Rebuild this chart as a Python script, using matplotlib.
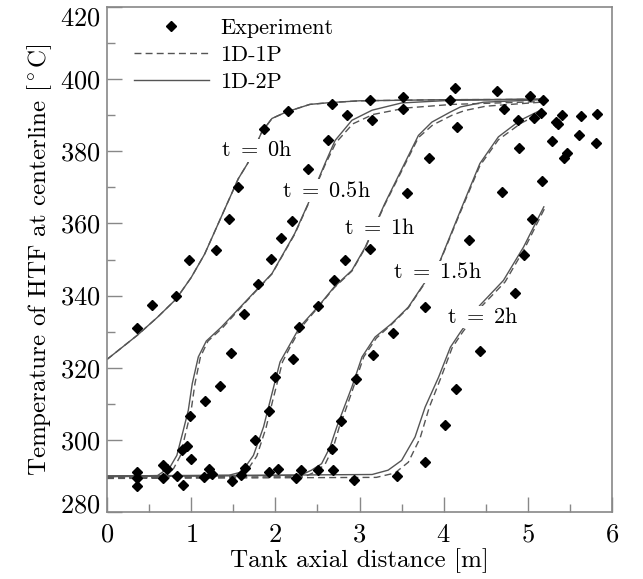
import matplotlib
matplotlib.use("Agg")
import matplotlib.pyplot as plt
from matplotlib.ticker import MultipleLocator

plt.rcParams['font.family'] = 'serif'
plt.rcParams['font.serif'] = ['cmr10']
plt.rcParams['mathtext.fontset'] = 'cm'
plt.rcParams['axes.formatter.use_mathtext'] = True

# experiment points
exp_x = [0.36, 0.53, 0.82, 0.98, 1.30, 1.45, 1.56, 1.87, 2.155, 2.67, 3.13, 3.515, 4.07, 4.14, 4.63, 5.02, 5.18,
         0.36, 0.36, 0.36, 0.67, 0.715, 0.67, 0.83, 0.905, 0.895, 0.955, 1.0, 0.986, 1.17, 1.34, 1.47, 1.63, 1.80,
         1.945, 2.07, 2.20, 2.385, 2.62, 2.85, 3.146, 3.515, 4.72, 1.215, 1.25, 1.155, 1.48, 1.59, 1.64,
         1.76, 1.92, 2.0, 2.214, 2.285, 2.51, 2.70, 2.83, 3.13, 3.57, 3.82, 4.16, 4.88, 5.07, 5.16,
         1.92, 2.03, 2.24, 2.305, 2.51, 2.69,
         2.67, 2.78, 2.96, 3.165, 3.40, 3.78, 4.30, 4.69, 4.90, 5.29, 5.33, 5.36, 5.40, 5.63, 5.82, 5.61, 5.81,
         5.46, 5.43, 5.17, 2.94,
         3.45, 3.78, 4.01, 4.15, 4.43, 4.85, 4.95, 5.05]
exp_y = [331.1, 337.5, 339.8, 349.8, 352.6, 361.2, 370.2, 386.3, 391.2, 393.2, 394.1, 395.1, 394.1, 397.5, 396.6, 395.3, 394.3,
         291.1, 289.3, 287.1, 293.1, 291.8, 289.4, 289.9, 287.4, 297.1, 298.3, 294.6, 306.6, 310.7, 314.9, 324.2, 334.8, 343.1,
         350.1, 356.1, 360.7, 375.1, 383.2, 390.0, 388.8, 391.6, 391.6, 291.8, 290.6, 289.7, 288.6, 290.2, 292.3,
         299.9, 307.9, 317.4, 322.5, 331.3, 337.0, 344.4, 350.0, 352.8, 368.5, 378.1, 386.6, 388.8, 389.3, 390.6,
         291.1, 292.0, 289.5, 291.6, 291.6, 291.6,
         297.5, 305.1, 316.8, 323.6, 329.5, 336.9, 355.3, 368.8, 381.0, 382.8, 388.1, 387.5, 390.1, 389.9, 390.2, 384.4, 382.2,
         379.5, 378.2, 371.9, 288.8,
         289.9, 293.9, 304.2, 314.2, 324.6, 340.8, 351.3, 361.2]

# 1D-2P (solid)
t0_x = [0, 0.36, 0.6, 0.82, 1.0, 1.16, 1.34, 1.56, 1.67, 1.84, 1.96, 2.13, 2.41, 2.65, 3.0, 4.0, 5.18]
t0_y = [322.3, 329.0, 334.0, 339.0, 345.0, 351.5, 360.9, 372.4, 376.6, 385.4, 389.1, 390.9, 393.0, 393.5, 394.0, 394.3, 394.4]
t05_x = [0, 0.6, 0.75, 0.83, 0.906, 0.966, 1.013, 1.085, 1.18, 1.36, 1.64, 1.96, 2.23, 2.39, 2.59, 2.71, 2.91, 3.15, 3.50, 4.06, 5.18]
t05_y = [289.9, 290.1, 292.5, 295.7, 302.6, 308.2, 315.6, 323.0, 327.4, 331.3, 338.2, 346.1, 357.2, 365.5, 376.6, 383.0, 388.6, 391.4, 393.4, 394.1, 394.5]
t1_x = [0, 1.45, 1.60, 1.74, 1.86, 1.94, 2.0, 2.056, 2.155, 2.29, 2.51, 2.70, 2.91, 3.07, 3.30, 3.70, 3.86, 4.08, 4.20, 4.47, 5.15]
t1_y = [290.0, 290.2, 291.1, 295.7, 303.6, 311.0, 316.5, 321.6, 325.7, 331.3, 337.0, 342.4, 347.0, 353.5, 365.5, 384.4, 388.1, 390.9, 392.3, 393.6, 394.3]
t15_x = [0, 2.30, 2.43, 2.55, 2.65, 2.73, 2.79, 2.91, 3.03, 3.185, 3.38, 3.58, 3.74, 3.96, 4.20, 4.43, 4.65, 4.91, 5.17]
t15_y = [289.8, 290.2, 291.6, 293.4, 298.0, 303.6, 307.3, 314.7, 323.0, 328.5, 332.2, 336.8, 342.4, 349.8, 363.6, 376.6, 384.0, 388.6, 391.6]
t2_x = [0, 3.15, 3.34, 3.50, 3.66, 3.78, 3.94, 4.08, 4.20, 4.43, 4.71, 4.95, 5.19]
t2_y = [289.9, 290.4, 291.6, 294.3, 300.8, 309.1, 317.4, 325.7, 329.9, 337.3, 344.2, 353.5, 364.6]

# 1D-1P (dashed)
d05_x = [0, 0.65, 0.79, 0.87, 0.94, 1.0, 1.045, 1.11, 1.20, 1.37, 1.64, 1.96, 2.23, 2.39, 2.59, 2.72, 2.92, 3.16, 3.55, 4.1, 5.18]
d05_y = [289.6, 289.7, 292.0, 295.5, 302.4, 308.2, 315.6, 323.0, 327.4, 331.0, 338.0, 346.0, 357.0, 365.3, 376.2, 382.4, 387.6, 390.2, 392.0, 393.0, 393.8]
d1_x = [0, 1.50, 1.65, 1.78, 1.89, 1.97, 2.03, 2.085, 2.175, 2.30, 2.51, 2.70, 2.91, 3.07, 3.30, 3.70, 3.87, 4.10, 4.25, 4.50, 5.15]
d1_y = [289.6, 289.8, 291.0, 295.5, 303.4, 311.0, 316.5, 321.6, 325.7, 331.0, 336.8, 342.2, 346.8, 353.3, 365.2, 383.8, 387.3, 390.0, 391.3, 392.5, 393.6]
d15_x = [0, 2.35, 2.48, 2.59, 2.69, 2.76, 2.82, 2.93, 3.05, 3.20, 3.38, 3.58, 3.74, 3.96, 4.20, 4.43, 4.65, 4.92, 5.17]
d15_y = [289.5, 289.8, 291.2, 293.2, 298.0, 303.6, 307.3, 314.7, 323.0, 328.2, 332.0, 336.6, 342.2, 349.6, 363.2, 376.0, 383.2, 387.8, 390.8]
d2_x = [0, 3.20, 3.42, 3.58, 3.72, 3.83, 3.97, 4.10, 4.22, 4.45, 4.73, 4.96, 5.20]
d2_y = [289.3, 289.6, 290.8, 293.8, 300.5, 309.1, 317.4, 325.5, 329.7, 337.0, 343.8, 353.0, 364.2]

labels = [r'$\mathrm{t\ =\ 0h}$', r'$\mathrm{t\ =\ 0.5h}$', r'$\mathrm{t\ =\ 1h}$',
          r'$\mathrm{t\ =\ 1.5h}$', r'$\mathrm{t\ =\ 2h}$']
label_x = [1.36, 2.08, 2.81, 3.40, 4.04]
label_y = [380.3, 369.1, 358.6, 346.5, 334.1]

fig = plt.figure(figsize=(6.43, 5.79), dpi=100)
ax = fig.add_axes([0.1664, 0.1157, 0.7854, 0.8722])

lc = '#555555'
solid = [(t0_x, t0_y), (t05_x, t05_y), (t1_x, t1_y), (t15_x, t15_y), (t2_x, t2_y)]
dashed = [(t0_x, t0_y), (d05_x, d05_y), (d1_x, d1_y), (d15_x, d15_y), (d2_x, d2_y)]
for i in range(5):
    ax.plot(dashed[i][0], dashed[i][1], color=lc, lw=1.0, ls=(0, (5, 3)),
            label='1D-1P' if i == 0 else None, zorder=2)
    ax.plot(solid[i][0], solid[i][1], color=lc, lw=1.0,
            label='1D-2P' if i == 0 else None, zorder=2)

ax.plot(exp_x, exp_y, ls='none', marker='D', ms=5, color='black', label='Experiment', zorder=3)

for i in range(5):
    ax.text(label_x[i], label_y[i], labels[i], fontsize=16, va='center', ha='left',
            bbox=dict(facecolor='white', edgecolor='none', pad=1.0), zorder=2.5)

ax.set_xlim(0, 6)
ax.set_ylim(280, 420)
ax.xaxis.set_major_locator(MultipleLocator(1))
ax.xaxis.set_minor_locator(MultipleLocator(0.5))
ax.yaxis.set_major_locator(MultipleLocator(20))
ax.yaxis.set_minor_locator(MultipleLocator(10))
ax.tick_params(which='both', direction='in', color='#888888', labelsize=19, width=1.0)
ax.tick_params(which='major', length=11)
ax.tick_params(which='minor', length=5.5)
ax.tick_params(axis='x', pad=8)
ax.tick_params(axis='y', pad=5)
for s in ax.spines.values():
    s.set_color('#888888')
    s.set_linewidth(1.2)

ax.set_xlabel('Tank axial distance [m]', fontsize=18, labelpad=1)
ax.set_ylabel(r'Temperature of HTF at centerline [$^\circ$C]', fontsize=18, labelpad=4)

h, l = ax.get_legend_handles_labels()
order = [l.index('Experiment'), l.index('1D-1P'), l.index('1D-2P')]
ax.legend([h[k] for k in order], [l[k] for k in order], loc='upper left', fontsize=16,
          frameon=False, handlelength=3.4, handletextpad=0.5, borderaxespad=0.0,
          labelspacing=0.34, bbox_to_anchor=(0.035, 0.995))

# end labels on the y axis sit inside the axis span, as in the original
fig.canvas.draw()
for tick in ax.yaxis.get_major_ticks():
    loc = tick.get_loc()
    if abs(loc - 420) < 1e-6:
        tick.label1.set_va('top')
    elif abs(loc - 280) < 1e-6:
        tick.label1.set_va('baseline')

fig.savefig('out.png', dpi=100)
